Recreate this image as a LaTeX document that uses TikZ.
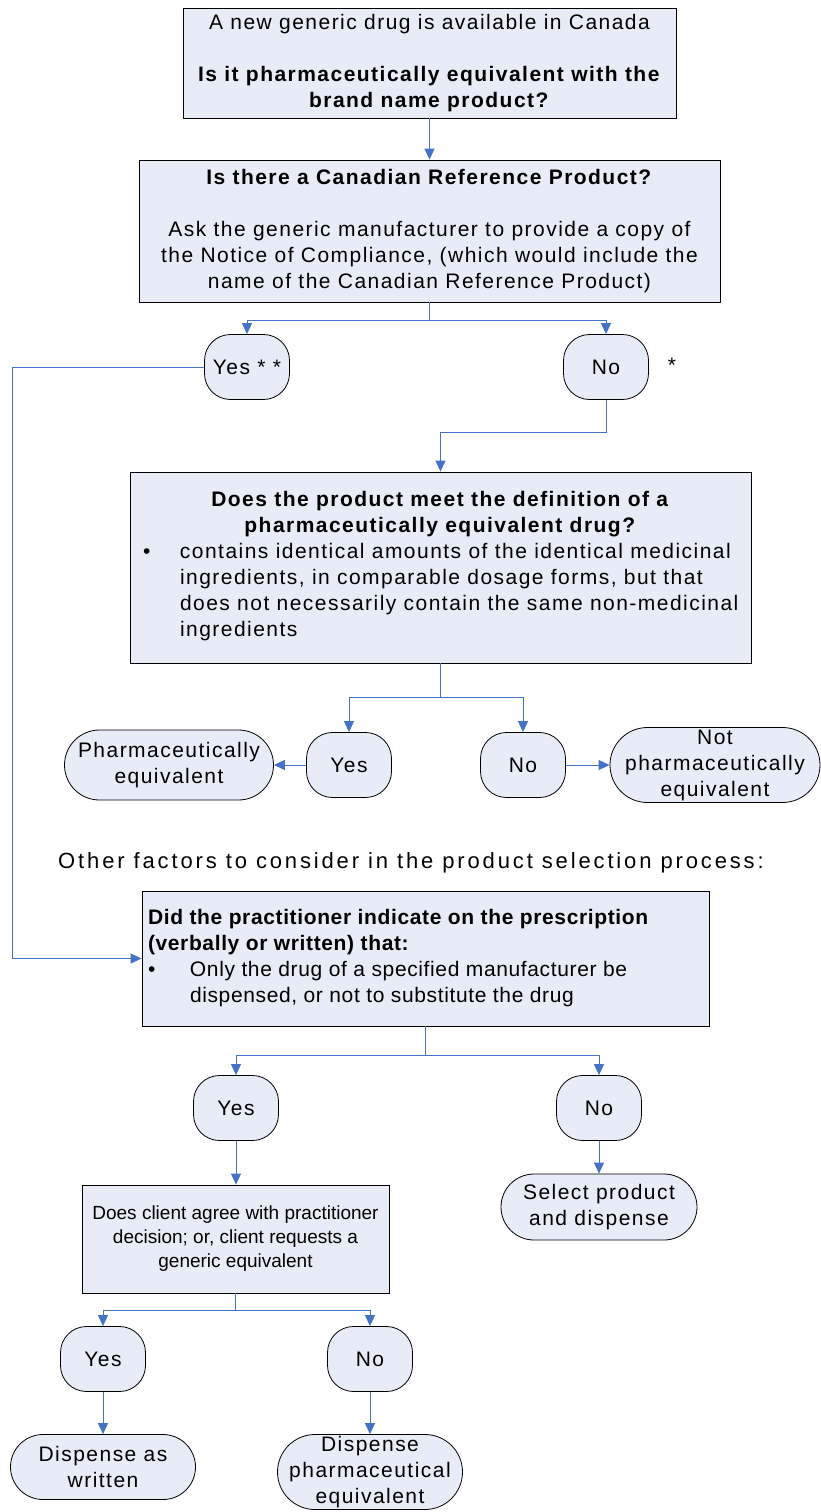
\documentclass[tikz,border=0pt]{standalone}
\usepackage{fontspec}
\setmainfont[LetterSpace=7]{Liberation Sans}
\newfontfamily\plainfont[LetterSpace=3]{Liberation Sans}
\newfontfamily\flatfont{Liberation Sans}
\newfontfamily\widefont[LetterSpace=13]{Liberation Sans}
\usetikzlibrary{arrows.meta}
\definecolor{boxfill}{HTML}{E7ECF6}
\definecolor{linkblue}{HTML}{4472C4}
\tikzset{
  base/.style={font=\fontsize{21}{26}\selectfont, draw=black, fill=boxfill,
    line width=0.8pt, inner sep=0pt, align=center},
  box/.style={base, rectangle},
  choice/.style={base, rounded corners=26pt, minimum width=85pt, minimum height=65pt},
  term/.style={base, rounded corners=#1, minimum height=2*#1},
  link/.style={draw=linkblue, line width=0.9pt},
  flow/.style={link, -{Triangle[width=10pt,length=11pt]}},
}
\begin{document}
\begin{tikzpicture}[x=1pt,y=-1pt]
    \useasboundingbox (0,0) rectangle (821,1512);

    \node[box, minimum width=493pt, minimum height=110pt] (new) at (429.5,63)
        {A new generic drug is available in Canada\\[26pt]
         \textbf{Is it pharmaceutically equivalent with the}\\
         \textbf{brand name product?}};

    \node[box, minimum width=581pt, minimum height=142pt] (ref) at (429.5,231)
        {\textbf{Is there a Canadian Reference Product?}\\[26pt]
         Ask the generic manufacturer to provide a copy of\\
         the Notice of Compliance, (which would include the\\
         name of the Canadian Reference Product)};

    \node[choice] (yes1) at (247,367) {Yes * *};
    \node[choice] (no1) at (606,367) {No};
    \node[font=\fontsize{21}{26}\selectfont] (star) at (672,365) {*};

    \node[box, minimum width=621pt, minimum height=191pt] (def) at (440.5,567.5)
        {\begin{minipage}{595pt}\centering
         \textbf{Does the product meet the definition of a}\\
         \textbf{pharmaceutically equivalent drug?}\par
         \raggedright
         \begin{tabular}[t]{@{}p{37pt}@{}l@{}}
           \textbullet & contains identical amounts of the identical medicinal\\
           & ingredients, in comparable dosage forms, but that\\
           & does not necessarily contain the same non-medicinal\\
           & ingredients
         \end{tabular}
         \end{minipage}};

    \node[choice] (yes2) at (349,765) {Yes};
    \node[choice] (no2) at (523,765) {No};
    \node[term=35pt, minimum width=209pt] (pe) at (169,765) {Pharmaceutically\\equivalent};
    \node[term=37.5pt, minimum width=210pt] (npe) at (715,765) {Not\\pharmaceutically\\equivalent};

    \node[font=\widefont\fontsize{22}{26}\selectfont] (other) at (411,863)
        {Other factors to consider in the product selection process:};

    \node[box, minimum width=567pt, minimum height=135pt] (presc) at (425.5,958.5)
        {\begin{minipage}{555pt}\plainfont
         \begin{tabular}{@{}p{42pt}@{}l@{}}
           \multicolumn{2}{@{}l@{}}{\textbf{Did the practitioner indicate on the prescription}}\\
           \multicolumn{2}{@{}l@{}}{\textbf{(verbally or written) that:}}\\
           \textbullet & Only the drug of a specified manufacturer be\\
           & dispensed, or not to substitute the drug
         \end{tabular}
         \end{minipage}};

    \node[choice] (yes3) at (236,1108) {Yes};
    \node[choice] (no3) at (599,1108) {No};
    \node[term=33pt, minimum width=196pt] (sel) at (599,1207) {Select product\\and dispense};

    \node[box, minimum width=307pt, minimum height=108pt, font=\flatfont\fontsize{19}{24}\selectfont]
        (client) at (235.5,1239)
        {Does client agree with practitioner\\
         decision; or, client requests a\\
         generic equivalent};

    \node[choice] (yes4) at (103,1359) {Yes};
    \node[choice] (no4) at (370,1359) {No};
    \node[term=32.5pt, minimum width=185pt] (daw) at (103,1467) {Dispense as\\written};
    \node[term=37.5pt, minimum width=185pt] (dpe) at (370,1472) {Dispense\\pharmaceutical\\equivalent};

    \coordinate (rail) at (12,0);

    \draw[flow] (new) -- (ref);
    \draw[link] (ref.south) -- ++(0,18) coordinate (fork1);
    \draw[flow] (fork1) -| (yes1.north);
    \draw[flow] (fork1) -| (no1.north);

    \draw[flow] (yes1.west) -| (rail |- presc.west) -- (presc.west);
    \draw[flow] (no1.south) -- ++(0,33) -| (def.north);

    \draw[link] (def.south) -- ++(0,34) coordinate (fork2);
    \draw[flow] (fork2) -| (yes2.north);
    \draw[flow] (fork2) -| (no2.north);
    \draw[flow] (yes2) -- (pe);
    \draw[flow] (no2) -- (npe);

    \draw[link] (presc.south) -- ++(0,29) coordinate (fork3);
    \draw[flow] (fork3) -| (yes3.north);
    \draw[flow] (fork3) -| (no3.north);
    \draw[flow] (yes3.south) -- (yes3.south |- client.north);
    \draw[flow] (no3) -- (sel);

    \draw[link] (client.south) -- ++(0,17) coordinate (fork4);
    \draw[flow] (fork4) -| (yes4.north);
    \draw[flow] (fork4) -| (no4.north);
    \draw[flow] (yes4) -- (daw);
    \draw[flow] (no4) -- (dpe);
\end{tikzpicture}
\end{document}
